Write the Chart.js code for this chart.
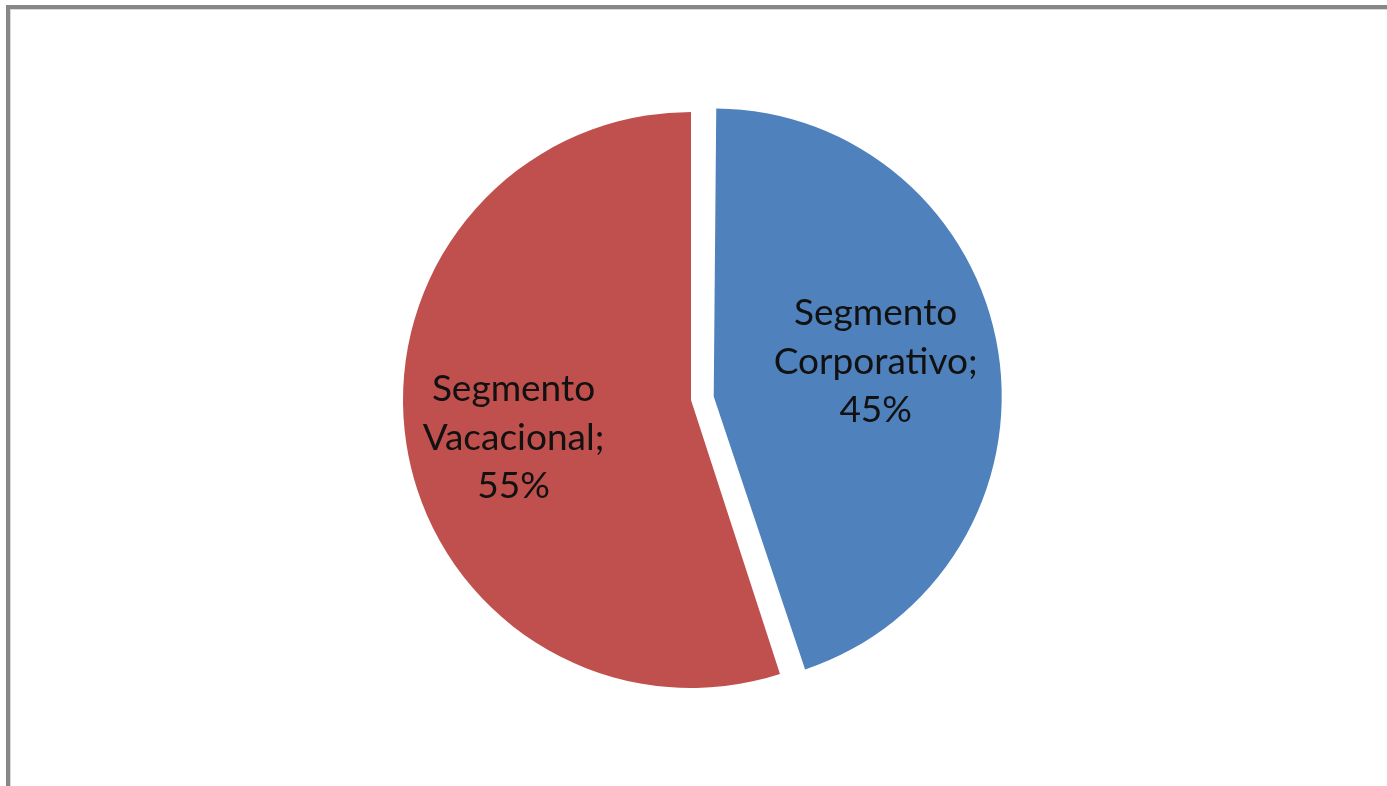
<!DOCTYPE html>
<html>
<head>
  <meta charset="UTF-8">
  <title>Segmentos</title>
  <script src="https://cdn.jsdelivr.net/npm/chart.js"></script>
  <style>
    html, body {
      margin: 0;
      padding: 0;
      background: #fff;
    }
    #wrap {
      width: 1387px;
      height: 786px;
    }
  </style>
</head>
<body>
  <div id="wrap"><canvas id="grafico"></canvas></div>

  <script>
    // dados do grafico
    const categorias = ['Segmento Corporativo', 'Segmento Vacacional'];
    const rotulos = [['Segmento', 'Corporativo;', '45%'], ['Segmento', 'Vacacional;', '55%']];
    const valores = [45, 55];
    const cores = ['#4F81BD', '#C0504D'];

    // moldura cinza do grafico (estilo Excel)
    const moldura = {
      id: 'moldura',
      beforeDraw(chart) {
        const c = chart.ctx;
        c.save();
        c.fillStyle = '#fff';
        c.fillRect(0, 0, chart.width, chart.height);
        c.strokeStyle = '#d9d9d9';
        c.lineWidth = 1;
        c.strokeRect(10.5, 9.5, chart.width + 20, chart.height + 20);
        c.strokeStyle = '#878787';
        c.lineWidth = 4;
        c.strokeRect(8, 7, chart.width + 20, chart.height + 20);
        c.restore();
      }
    };

    // o Chart.js aumenta o raio da fatia destacada; aqui so deslocamos
    const semCrescer = {
      id: 'semCrescer',
      afterDatasetUpdate(chart, args) {
        args.meta.data.forEach(arc => {
          const desl = (arc.options.offset || 0) / 4;
          if (!desl) return;
          const circ = arc.endAngle - arc.startAngle;
          const fix = 1 - Math.sin(Math.min(Math.PI, circ));
          arc.outerRadius -= desl * fix;
        });
      }
    };

    // rotulos dentro das fatias
    const rotulosFatias = {
      id: 'rotulosFatias',
      afterDatasetsDraw(chart, args, opts) {
        const c = chart.ctx;
        const meta = chart.getDatasetMeta(0);
        c.save();
        c.font = opts.font;
        c.fillStyle = '#111';
        c.textAlign = 'center';
        c.textBaseline = 'alphabetic';
        meta.data.forEach((arc, i) => {
          const meio = (arc.startAngle + arc.endAngle) / 2;
          const desl = (arc.options.offset || 0) / 4;
          const ox = arc.x + Math.cos(meio) * desl;
          const oy = arc.y + Math.sin(meio) * desl;
          const ang = meio + opts.giro * Math.PI / 180;
          const r = 288 * opts.fator[i];
          const cx = ox + Math.cos(ang) * r;
          const cy = oy + Math.sin(ang) * r;
          const linhas = rotulos[i];
          linhas.forEach((t, k) => {
            const y = cy + (k - (linhas.length - 1) / 2) * opts.altura + opts.meiaCaixa;
            c.fillText(t, cx, y);
          });
        });
        c.restore();
      }
    };

    const ctx = document.getElementById('grafico').getContext('2d');
    const chart = new Chart(ctx, {
      type: 'pie',
      data: {
        labels: categorias,
        datasets: [{
          data: valores,
          backgroundColor: cores,
          borderWidth: 0,
          offset: [92, 0]
        }]
      },
      options: {
        responsive: true,
        maintainAspectRatio: false,
        animation: false,
        radius: 288,
        layout: {
          padding: { left: 0, right: 5, top: 14, bottom: 0 }
        },
        plugins: {
          legend: { display: false },
          tooltip: { enabled: false },
          rotulosFatias: {
            font: '37px Lato',
            altura: 48.5,
            meiaCaixa: 12,
            giro: -3,
            fator: [0.575, 0.63]
          }
        }
      },
      plugins: [moldura, semCrescer, rotulosFatias]
    });
  </script>
</body>
</html>
